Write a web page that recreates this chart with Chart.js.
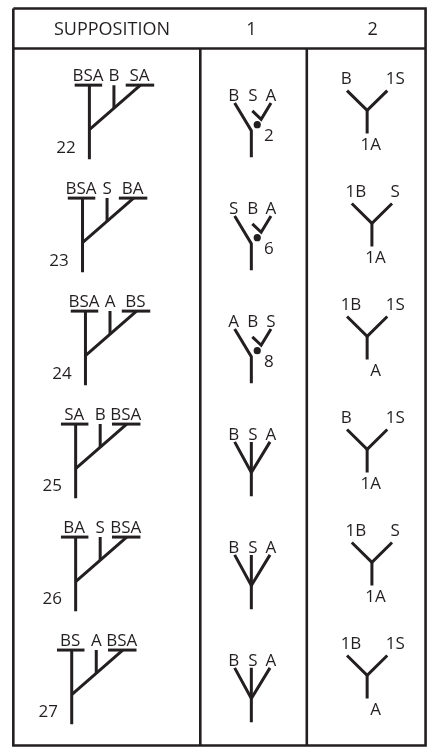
<!DOCTYPE html>
<html>
<head>
<meta charset="utf-8">
<style>
  html, body { margin: 0; padding: 0; background: #fff; }
  canvas { display: block; }
</style>
<script src="https://cdn.jsdelivr.net/npm/chart.js@4/dist/chart.umd.min.js"></script>
</head>
<body>
<canvas id="myChart" width="433" height="752"></canvas>
<script>
// table content
const headers = ['SUPPOSITION', '1', '2'];
const suppositions = ['22', '23', '24', '25', '26', '27'];
const branchLabels = [
  ['BSA', 'B', 'SA'],
  ['BSA', 'S', 'BA'],
  ['BSA', 'A', 'BS'],
  ['SA', 'B', 'BSA'],
  ['BA', 'S', 'BSA'],
  ['BS', 'A', 'BSA']
];
const col1Labels = [
  ['B', 'S', 'A'],
  ['S', 'B', 'A'],
  ['A', 'B', 'S'],
  ['B', 'S', 'A'],
  ['B', 'S', 'A'],
  ['B', 'S', 'A']
];
const col1Nodes = ['2', '6', '8', null, null, null];
const col2Left = ['B', '1B', '1B', 'B', '1B', '1B'];
const col2Right = ['1S', 'S', '1S', '1S', 'S', '1S'];
const col2Bottom = ['1A', '1A', 'A', '1A', '1A', 'A'];

// layout, in canvas pixels
const W = 433, H = 752;
const firstTop = 82, rowStep = 114.2;
const treeX = [87, 80, 83, 73, 73, 69];
const colMid = [110, 252, 375.5];
const table = { left: 9.5, right: 429.5, top: 4.5, bottom: 749.5, head: 45, div1: 200, div2: 308.5 };
const ink = '#231f20';
const labelFont = '17px "Open Sans"';
const headFont = '18px "Open Sans"';

let treeLines = [];
let tableLines = [];
let dots = [];
let texts = [];

const line = (list, pts) => list.push(pts.map(p => ({x: p[0], y: p[1]})));
const text = (s, x, y, align, f) => texts.push({s: s, x: x, y: y, align: align || 'center', font: f || labelFont});

buildAll = () => {
  const mctx = document.createElement('canvas').getContext('2d');
  mctx.font = labelFont;

  // table frame
  const t = table;
  line(tableLines, [[t.left, t.top], [t.right, t.top], [t.right, t.bottom], [t.left, t.bottom], [t.left, t.top]]);
  line(tableLines, [[t.left, t.head], [t.right, t.head]]);
  line(tableLines, [[t.div1, t.head], [t.div1, t.bottom]]);
  line(tableLines, [[t.div2, t.head], [t.div2, t.bottom]]);
  headers.forEach((h, c) => text(h, colMid[c], (t.top + t.head) / 2, 'center', headFont));

  for (let i = 0; i < suppositions.length; i++) {
    const T = firstTop + i * rowStep;

    // supposition tree
    const M = treeX[i];
    line(treeLines, [[M, T], [M, T + 75]]);
    line(treeLines, [[M - 15, T], [M + 13, T]]);
    line(treeLines, [[M + 37, T], [M + 66, T]]);
    line(treeLines, [[M, T + 45], [M + 52, T]]);
    line(treeLines, [[M + 25, T], [M + 25, T + 45 - 45 * 25 / 52]]);
    text(branchLabels[i][0], M - 1.5, T - 10.5);
    text(branchLabels[i][1], M + 25, T - 10.5);
    text(branchLabels[i][2], M + 51, T - 10.5);
    text(suppositions[i], M - 14, T + 62, 'right');

    // column 1
    const x0 = colMid[1], top = T + 18;
    if (col1Nodes[i]) {
      line(treeLines, [[x0 - 17, top], [x0, top + 28], [x0, top + 55]]);
      line(treeLines, [[x0 + 1, top + 8], [x0 + 10, top + 16.5], [x0 + 20, top]]);
      dots.push({x: x0 + 6, y: top + 22});
      text(col1Nodes[i], x0 + 13, top + 32, 'left');
    } else {
      line(treeLines, [[x0 - 17, top], [x0, top + 31], [x0 + 19, top]]);
      line(treeLines, [[x0, top], [x0, top + 55]]);
    }
    text(col1Labels[i][0], x0 - 18, top - 8);
    text(col1Labels[i][1], x0 + 1.5, top - 8);
    text(col1Labels[i][2], x0 + 20, top - 8);

    // column 2: label group centred in the column
    const wR = mctx.measureText(col2Right[i]).width;
    const jx = (2 * colMid[2] + 27 - 19 - wR) / 2;
    const jy = T + 25.5;
    line(treeLines, [[jx - 20.5, jy - 20], [jx, jy], [jx + 20.5, jy - 20]]);
    line(treeLines, [[jx, jy], [jx, jy + 23.5]]);
    text(col2Left[i], jx - 27, jy - 33, 'left');
    text(col2Right[i], jx + 19, jy - 33, 'left');
    text(col2Bottom[i], jx + 14, jy + 34, 'right');
  }
}

// draws the labels through the chart scales
const labelPlugin = {
  id: 'labels',
  afterDatasetsDraw: (chart) => {
    const c = chart.ctx, xs = chart.scales.x, ys = chart.scales.y;
    c.save();
    c.fillStyle = ink;
    c.textBaseline = 'alphabetic';
    texts.forEach(t => {
      c.font = t.font;
      c.textAlign = t.align;
      const size = parseFloat(t.font);
      c.fillText(t.s, xs.getPixelForValue(t.x), ys.getPixelForValue(t.y) + size * 0.357);
    });
    c.restore();
  }
};

drawChart = () => {
  buildAll();
  const lineSet = (pts, width) => ({
    data: pts,
    showLine: true,
    borderColor: ink,
    borderWidth: width,
    borderCapStyle: 'butt',
    borderJoinStyle: 'miter',
    pointRadius: 0,
    fill: false
  });
  let datasets = [];
  tableLines.forEach(p => datasets.push(lineSet(p, 2.6)));
  treeLines.forEach(p => datasets.push(lineSet(p, 3)));
  datasets.push({
    data: dots,
    pointRadius: 3.6,
    pointBackgroundColor: ink,
    pointBorderWidth: 0,
    showLine: false
  });

  new Chart(document.getElementById('myChart').getContext('2d'), {
    type: 'scatter',
    data: { datasets: datasets },
    options: {
      responsive: false,
      animation: false,
      devicePixelRatio: 1,
      layout: { padding: 0 },
      plugins: { legend: { display: false }, tooltip: { enabled: false } },
      scales: {
        x: { type: 'linear', min: 0, max: W, display: false },
        y: { type: 'linear', min: 0, max: H, reverse: true, display: false }
      }
    },
    plugins: [labelPlugin]
  });
}

document.fonts.load(labelFont).then(drawChart, drawChart);
</script>
</body>
</html>
